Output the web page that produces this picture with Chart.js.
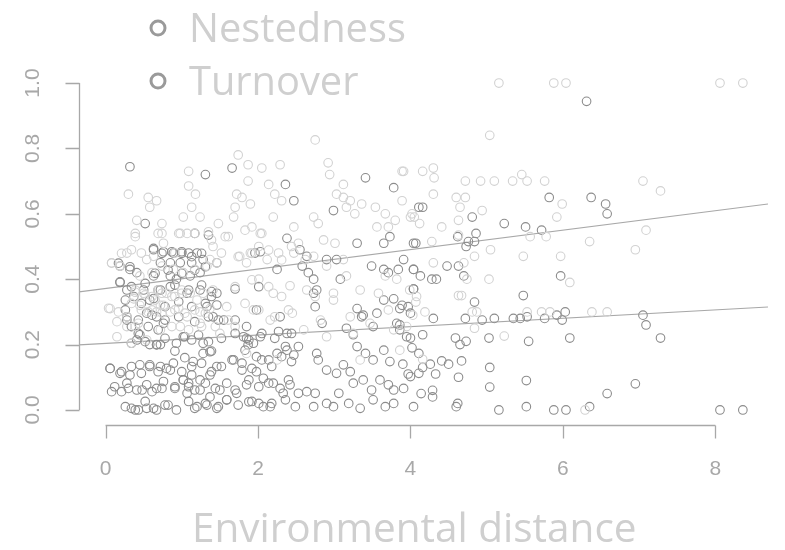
<!DOCTYPE html>
<html><head><meta charset="utf-8">
<script src="https://cdn.jsdelivr.net/npm/chart.js@4.4.1/dist/chart.umd.min.js"></script>
<style>html,body{margin:0;padding:0;background:#fff}canvas{display:block}</style>
</head><body>
<canvas id="c" width="785" height="550"></canvas>
<script>
const seriesNames = ["Nestedness", "Turnover"];
const xTicks = [0, 2, 4, 6, 8];
const yTicks = [0, 0.2, 0.4, 0.6, 0.8, 1.0];
const yTickLabels = ["0.0", "0.2", "0.4", "0.6", "0.8", "1.0"];
const xTitle = "Environmental distance";

const turnover = [
[5.16,1.0],[5.88,1.0],[6.04,1.0],[8.06,1.0],[8.36,1.0],[5.04,0.84],[3.91,0.73],[4.16,0.73],[4.30,0.74],[4.31,0.71],[4.72,0.70],[4.92,0.70],[5.10,0.70],[5.34,0.70],[5.46,0.72],[5.53,0.70],[5.76,0.70],[7.05,0.70],[7.28,0.67],[4.30,0.66],[4.60,0.65],[4.72,0.65],[5.99,0.63],[4.65,0.62],[4.94,0.61],[4.00,0.59],[4.05,0.59],[4.12,0.57],[4.63,0.58],[5.92,0.59],[4.41,0.56],[7.09,0.55],[5.57,0.53],[5.78,0.53],[6.35,0.515],[4.28,0.515],[4.63,0.535],[5.05,0.49],[6.95,0.49],[4.84,0.47],[5.48,0.47],[5.97,0.47],[4.30,0.45],[4.70,0.45],[5.03,0.40],[6.09,0.39],[4.74,0.40],[4.63,0.35],[4.67,0.35],[4.07,0.33],[4.81,0.30],[4.87,0.30],[5.53,0.30],[5.72,0.30],[5.83,0.30],[6.38,0.30],[6.58,0.30],[4.03,0.29],[4.19,0.30],[4.84,0.25],[5.23,0.226],[4.16,0.155],[6.29,0.0],
[2.75,0.826],[1.74,0.78],[1.87,0.75],[2.05,0.74],[2.29,0.75],[2.92,0.756],[2.94,0.72],[1.09,0.73],[1.09,0.685],[1.18,0.66],[1.87,0.70],[2.14,0.69],[2.22,0.66],[2.31,0.64],[3.12,0.69],[3.03,0.66],[3.12,0.65],[3.21,0.64],[3.89,0.73],[0.30,0.66],[0.56,0.65],[0.67,0.64],[0.58,0.62],[0.41,0.58],[0.39,0.54],[1.24,0.59],[1.02,0.59],[1.13,0.62],[1.72,0.66],[1.79,0.65],[1.90,0.63],[1.70,0.62],[1.68,0.59],[2.20,0.59],[1.92,0.56],[2.03,0.54],[2.01,0.50],[1.90,0.48],[0.74,0.57],[0.69,0.54],[0.76,0.51],[0.98,0.54],[1.07,0.54],[0.91,0.48],[1.35,0.545],[1.48,0.57],[1.57,0.53],[1.41,0.50],[1.52,0.48],[2.47,0.56],[2.53,0.51],[2.73,0.59],[2.79,0.57],[2.86,0.52],[3.01,0.51],[3.16,0.62],[3.27,0.60],[3.36,0.63],[3.54,0.62],[3.67,0.60],[3.56,0.56],[3.71,0.56],[3.80,0.58],[4.02,0.60],[3.89,0.64],
[0.08,0.45],[0.19,0.44],[0.28,0.48],[0.34,0.49],[0.47,0.48],[0.54,0.46],[0.63,0.47],
[0.06,0.31],[0.17,0.30],[0.28,0.285],[0.37,0.34],[0.45,0.32],[0.56,0.30],[0.67,0.30],[0.76,0.32],[0.85,0.30],
[0.15,0.27],[0.28,0.255],[0.43,0.265],
[0.39,0.36],[0.50,0.357],[0.61,0.347],[0.69,0.367],[0.80,0.357],[0.91,0.347],[1.00,0.367],[1.11,0.357],[1.20,0.336],[1.28,0.357],[1.41,0.367],
[0.45,0.41],[0.61,0.42],[0.74,0.44],[0.89,0.43],[1.02,0.42],[1.17,0.43],[1.33,0.44],[1.46,0.45],[1.37,0.46],
[0.72,0.32],[0.96,0.31],[1.07,0.285],[1.24,0.30],[1.37,0.31],[1.59,0.316],
[1.76,0.47],[1.85,0.45],[2.12,0.46],[2.27,0.48],[2.47,0.48],[2.62,0.46],[2.73,0.47],[2.90,0.44],[3.12,0.46],
[2.01,0.40],[2.20,0.357],[2.42,0.38],[2.64,0.367],[2.75,0.347],[2.99,0.357],[3.16,0.41],[3.34,0.367],[3.58,0.357],[3.67,0.41],[3.82,0.40],[3.99,0.367],[4.08,0.347],
[1.94,0.306],[2.16,0.275],[2.45,0.296],[2.82,0.275],[2.99,0.336],[3.21,0.285],[3.47,0.265],[3.71,0.306],
[2.60,0.245],[2.90,0.224],[3.25,0.234],[3.78,0.245],[3.95,0.255],
[0.72,0.245],[0.98,0.255],[1.24,0.265],[1.50,0.234],[1.70,0.255],
[0.15,0.224],[0.34,0.204],[0.54,0.214],
[1.85,0.173],[2.25,0.153],[3.34,0.153],[3.86,0.183],
[0.08,0.449],[0.04,0.311],[0.39,0.367],[0.52,0.352],[0.65,0.336],[0.74,0.357],[0.87,0.347],[1.00,0.357],[0.34,0.326],[0.47,0.306],[0.61,0.306],[0.74,0.296],[0.91,0.306],[1.04,0.296],[1.17,0.306],[1.31,0.296],[0.39,0.255],[0.87,0.255],[1.09,0.245],[1.26,0.255],[1.44,0.255],[1.61,0.275],[1.70,0.377],[1.92,0.398],[2.14,0.377],[2.31,0.347],[1.83,0.326],[2.01,0.306],[2.22,0.285],[2.40,0.306],[1.74,0.469],[1.92,0.479],[2.14,0.489],[2.31,0.459],[2.44,0.50],[1.61,0.53],[1.83,0.55],[2.05,0.54],[1.17,0.54],[1.39,0.52],[0.39,0.53],[0.21,0.479],[0.74,0.54],[0.96,0.54]
];

const nestedness = [
[6.31,0.944],[4.16,0.62],[4.81,0.59],[5.82,0.65],[6.37,0.65],[6.56,0.63],[6.58,0.60],[5.23,0.57],[5.51,0.56],[5.72,0.55],[4.86,0.54],[4.62,0.53],[4.76,0.515],[4.84,0.515],[4.73,0.50],[4.07,0.51],[3.91,0.46],[4.04,0.43],[4.13,0.41],[4.48,0.44],[4.63,0.44],[4.70,0.41],[4.28,0.40],[4.34,0.40],[4.04,0.37],[5.97,0.41],[4.84,0.33],[5.48,0.35],[3.89,0.32],
[4.30,0.28],[4.72,0.28],[4.94,0.275],[5.10,0.28],[5.35,0.28],[5.44,0.28],[5.53,0.285],[5.76,0.28],[5.92,0.29],[6.03,0.30],[5.99,0.275],
[7.05,0.29],[7.09,0.26],[7.28,0.22],[3.86,0.26],[5.03,0.22],[5.55,0.21],[6.09,0.22],[4.00,0.22],[4.02,0.19],[4.16,0.23],[4.59,0.22],[4.65,0.20],[4.73,0.21],
[3.90,0.14],[3.97,0.11],[4.16,0.13],[4.26,0.14],[4.41,0.15],[4.50,0.14],[4.67,0.15],[4.33,0.11],[4.63,0.10],[5.04,0.13],
[4.29,0.06],[4.29,0.04],[4.14,0.05],[4.04,0.01],[4.62,0.02],[4.60,0.01],[5.04,0.07],[5.52,0.09],[6.58,0.05],[6.95,0.08],[5.16,0.0],[5.52,0.01],[5.88,0.0],[6.04,0.0],[6.35,0.01],[8.06,0.0],[8.36,0.0],
[0.32,0.744],[1.31,0.72],[1.66,0.74],[2.36,0.69],[2.47,0.64],[2.99,0.61],[3.41,0.71],[3.78,0.68],[3.73,0.53],[3.65,0.51],[3.30,0.51],[4.04,0.51],[4.11,0.62],[0.52,0.57],[1.17,0.54],[1.35,0.535],[2.38,0.525],[2.55,0.49],[2.64,0.47],
[0.63,0.49],[0.76,0.484],[0.89,0.48],[1.00,0.484],[1.09,0.48],[1.20,0.48],
[0.19,0.44],[0.32,0.43],[0.72,0.45],[0.85,0.45],[0.98,0.45],[1.13,0.45],[1.28,0.46],[1.46,0.45],
[0.41,0.42],[0.63,0.41],[0.85,0.41],[0.93,0.40],[1.11,0.41],[1.24,0.42],
[2.03,0.484],[1.96,0.48],[2.25,0.43],[2.58,0.44],[2.66,0.42],[2.90,0.46],[3.03,0.46],[3.49,0.44],[3.65,0.43],[3.71,0.42],[3.84,0.43],[4.04,0.43],[4.04,0.37],
[0.19,0.39],[0.28,0.367],[0.37,0.347],[0.50,0.367],[0.58,0.336],
[0.72,0.367],[0.85,0.377],[1.07,0.357],[1.24,0.367],[1.39,0.347],[1.46,0.357],
[1.70,0.37],[2.01,0.377],[2.73,0.40],[2.77,0.367],[2.75,0.316],[2.73,0.357],[3.08,0.40],
[3.30,0.31],[3.38,0.29],[3.65,0.336],[3.78,0.34],[3.86,0.31],[3.97,0.316],[4.00,0.296],
[0.26,0.306],[0.28,0.275],[0.34,0.255],[0.43,0.234],[0.54,0.296],[0.67,0.285],[0.76,0.265],
[1.33,0.316],[1.41,0.285],[1.55,0.275],[1.70,0.275],[1.85,0.255],[1.98,0.306],[2.29,0.285],
[1.81,0.224],[1.88,0.214],[1.94,0.204],[2.03,0.224],[2.27,0.24],[2.38,0.234],[2.84,0.265],[3.16,0.25],[3.25,0.23],[3.36,0.285],[3.56,0.296],[3.82,0.265],
[0.41,0.214],[0.58,0.2],[0.67,0.2],[0.72,0.2],[0.45,0.23],[1.02,0.224],[1.13,0.214],[1.28,0.204],
[0.06,0.127],[0.19,0.112],[0.32,0.107],[0.45,0.138],[0.58,0.138],[0.72,0.133],
[0.08,0.056],[0.21,0.056],[0.30,0.066],[0.48,0.061],[0.61,0.056],[0.74,0.066],
[0.34,0.005],[0.43,0],[0.54,0.005],[0.67,0],[0.82,0.015],
[0.91,0.18],[1.04,0.16],[1.15,0.148],[1.28,0.173],[1.39,0.18],
[0.85,0.122],[1.02,0.092],[1.09,0.082],[1.13,0.107],[1.24,0.092],[1.37,0.107],[1.46,0.133],
[0.91,0.066],[1.07,0.051],[1.24,0.061],[1.37,0.04],[1.50,0.061],[1.59,0.031],
[1.20,0.01],[1.33,0.015],[1.46,0.005],
[1.68,0.153],[1.79,0.122],[1.88,0.092],[1.98,0.117],[2.07,0.097],
[2.14,0.153],[2.25,0.173],[2.38,0.183],[2.47,0.168],[2.53,0.194],
[1.72,0.051],[1.88,0.025],[2.01,0.02],[2.16,0.01],[2.33,0.051],
[2.20,0.082],[2.40,0.092],[2.53,0.051],[2.64,0.056],[2.75,0.051],
[2.49,0.01],[2.73,0.01],[2.90,0.02],[2.99,0.01],[3.06,0.051],
[2.77,0.173],[2.79,0.153],[2.90,0.122],[3.03,0.112],[3.12,0.138],[3.21,0.117],
[3.25,0.082],[3.38,0.092],[3.49,0.061],[3.60,0.092],[3.71,0.077],
[3.30,0.194],[3.41,0.173],[3.51,0.153],[3.65,0.183],[3.73,0.148],
[3.78,0.061],[3.91,0.066],[4.00,0.102],[4.11,0.112],
[3.19,0.02],[3.34,0.005],[3.51,0.031],[3.67,0.01],[3.78,0.02],
[1.83,0.183],[1.98,0.163],[3.95,0.224],[3.86,0.245],[3.51,0.255],[4.11,0.173],
[0.06,0.127],[0.21,0.117],[0.34,0.133],[0.47,0.112],[0.58,0.133],[0.69,0.117],[0.80,0.127],[0.89,0.143],[1.00,0.117],[1.13,0.133],[1.26,0.143],[1.39,0.117],[1.52,0.133],[1.66,0.153],[1.79,0.143],[1.92,0.127],[2.05,0.153],[2.18,0.133],[2.31,0.163],[2.44,0.148],
[0.12,0.071],[0.28,0.082],[0.41,0.061],[0.54,0.077],[0.67,0.066],[0.76,0.087],[0.91,0.071],[1.02,0.092],[1.09,0.071],[1.17,0.061],[1.31,0.082],[1.44,0.066],[1.59,0.082],[1.70,0.061],[1.85,0.077],[2.01,0.071],[2.14,0.082],[2.29,0.066],[2.42,0.077],
[0.26,0.01],[0.39,0.0],[0.52,0.026],[0.63,0.005],[0.78,0.015],[0.93,0.0],[1.09,0.026],[1.17,0.005],[1.31,0.02],[1.48,0.01],[1.59,0.031],[1.74,0.015],[1.92,0.026],[2.07,0.01],[2.18,0.02],[2.36,0.031],
[0.34,0.204],[0.52,0.209],[0.67,0.199],[0.78,0.219],[0.93,0.204],[1.04,0.224],[1.22,0.229],[1.35,0.209],[1.37,0.178],[1.52,0.219],[1.70,0.234],[1.85,0.219],[1.87,0.199],[2.05,0.234],[2.22,0.219],[2.36,0.194],[2.44,0.234],
[0.17,0.449],[0.32,0.438],[0.63,0.494],[0.74,0.479],[0.87,0.484],[1.00,0.479],[1.13,0.469],[1.26,0.479],[0.65,0.418],[0.82,0.428],[1.00,0.418],[1.17,0.428],[1.31,0.438],[0.19,0.392],[0.34,0.377],[0.52,0.387],[0.69,0.367],[0.91,0.382],[1.09,0.367],[1.26,0.382],[1.39,0.362],[0.26,0.336],[0.47,0.326],[0.63,0.341],[0.78,0.316],[0.96,0.331],[1.13,0.316],[1.31,0.326],[1.46,0.321],[0.28,0.285],[0.43,0.275],[0.61,0.29],[0.78,0.275],[0.96,0.285],[1.17,0.27],[1.35,0.285],[1.48,0.275],[0.56,0.255],[0.69,0.245]
];

// regression line end points (at left/right edge of plot region)
const fitX = [-0.348, 8.69];
const turnoverFitY = [0.361, 0.630];
const nestednessFitY = [0.199, 0.315];

const LIGHT = '#d2d2d2', DARK = '#8c8c8c', AXIS = '#a8a8a8', TXT = '#cfcfcf';

const toPts = a => a.map(p => ({x: p[0], y: p[1]}));

const rAxes = {
  id: 'rAxes',
  afterDraw(chart) {
    const ctx = chart.ctx, xs = chart.scales.x, ys = chart.scales.y;
    ctx.save();
    ctx.strokeStyle = AXIS; ctx.lineWidth = 1.3;
    const yA = 425.5;
    ctx.beginPath();
    ctx.moveTo(xs.getPixelForValue(xTicks[0]), yA);
    ctx.lineTo(xs.getPixelForValue(xTicks[xTicks.length-1]), yA);
    xTicks.forEach(v => { const p = Math.round(xs.getPixelForValue(v)) + 0.5; ctx.moveTo(p, yA); ctx.lineTo(p, yA + 13); });
    ctx.stroke();
    const xA = 79.5;
    ctx.beginPath();
    ctx.moveTo(xA, ys.getPixelForValue(yTicks[0]));
    ctx.lineTo(xA, ys.getPixelForValue(yTicks[yTicks.length-1]));
    yTicks.forEach(v => { const p = Math.round(ys.getPixelForValue(v)) + 0.5; ctx.moveTo(xA, p); ctx.lineTo(xA - 14, p); });
    ctx.stroke();
    ctx.fillStyle = AXIS;
    ctx.font = '21px "Liberation Sans", Arial, sans-serif';
    ctx.textAlign = 'center'; ctx.textBaseline = 'middle';
    xTicks.forEach(v => ctx.fillText(String(v), xs.getPixelForValue(v), 469));
    yTicks.forEach((v, i) => {
      ctx.save();
      ctx.translate(33, ys.getPixelForValue(v));
      ctx.rotate(-Math.PI/2);
      ctx.fillText(yTickLabels[i], 0, 0);
      ctx.restore();
    });
    ctx.fillStyle = TXT;
    ctx.textBaseline = 'alphabetic';
    ctx.font = '40px "Open Sans", sans-serif';
    let w = ctx.measureText(xTitle).width;
    const fs = 40 * 445 / w;
    ctx.font = fs.toFixed(1) + 'px "Open Sans", sans-serif';
    ctx.textAlign = 'left';
    ctx.fillText(xTitle, 192, 542);
    ctx.font = '38px "Open Sans", sans-serif';
    w = ctx.measureText(seriesNames[0]).width;
    const lf = 38 * 217 / w;
    ctx.font = lf.toFixed(1) + 'px "Open Sans", sans-serif';
    const rows = [[28, 42], [81, 95]];
    seriesNames.forEach((n, i) => {
      ctx.strokeStyle = '#9a9a9a'; ctx.lineWidth = 3;
      ctx.beginPath(); ctx.arc(158, rows[i][0], 7, 0, Math.PI*2); ctx.stroke();
      ctx.fillStyle = TXT;
      ctx.fillText(n, 189, rows[i][1]);
    });
    ctx.restore();
  }
};

new Chart(document.getElementById('c'), {
  type: 'scatter',
  data: {
    datasets: [
      { label: seriesNames[1], data: toPts(turnover), borderColor: LIGHT, backgroundColor: 'rgba(0,0,0,0)', pointRadius: 4.3, pointBorderWidth: 1.1, pointHoverRadius: 4.3 },
      { label: seriesNames[0], data: toPts(nestedness), borderColor: DARK, backgroundColor: 'rgba(0,0,0,0)', pointRadius: 4.3, pointBorderWidth: 1.1, pointHoverRadius: 4.3 },
      { type: 'line', label: 'fitT', data: fitX.map((x, i) => ({x, y: turnoverFitY[i]})), borderColor: AXIS, borderWidth: 1.2, pointRadius: 0, fill: false },
      { type: 'line', label: 'fitN', data: fitX.map((x, i) => ({x, y: nestednessFitY[i]})), borderColor: AXIS, borderWidth: 1.2, pointRadius: 0, fill: false }
    ]
  },
  options: {
    responsive: false,
    animation: false,
    events: [],
    layout: { padding: { left: 79, right: 17, top: 68, bottom: 125 } },
    scales: {
      x: { type: 'linear', min: -0.348, max: 8.69, display: false },
      y: { type: 'linear', min: -0.046, max: 1.046, display: false }
    },
    plugins: { legend: { display: false }, tooltip: { enabled: false } }
  },
  plugins: [rAxes]
});
</script>
</body></html>
